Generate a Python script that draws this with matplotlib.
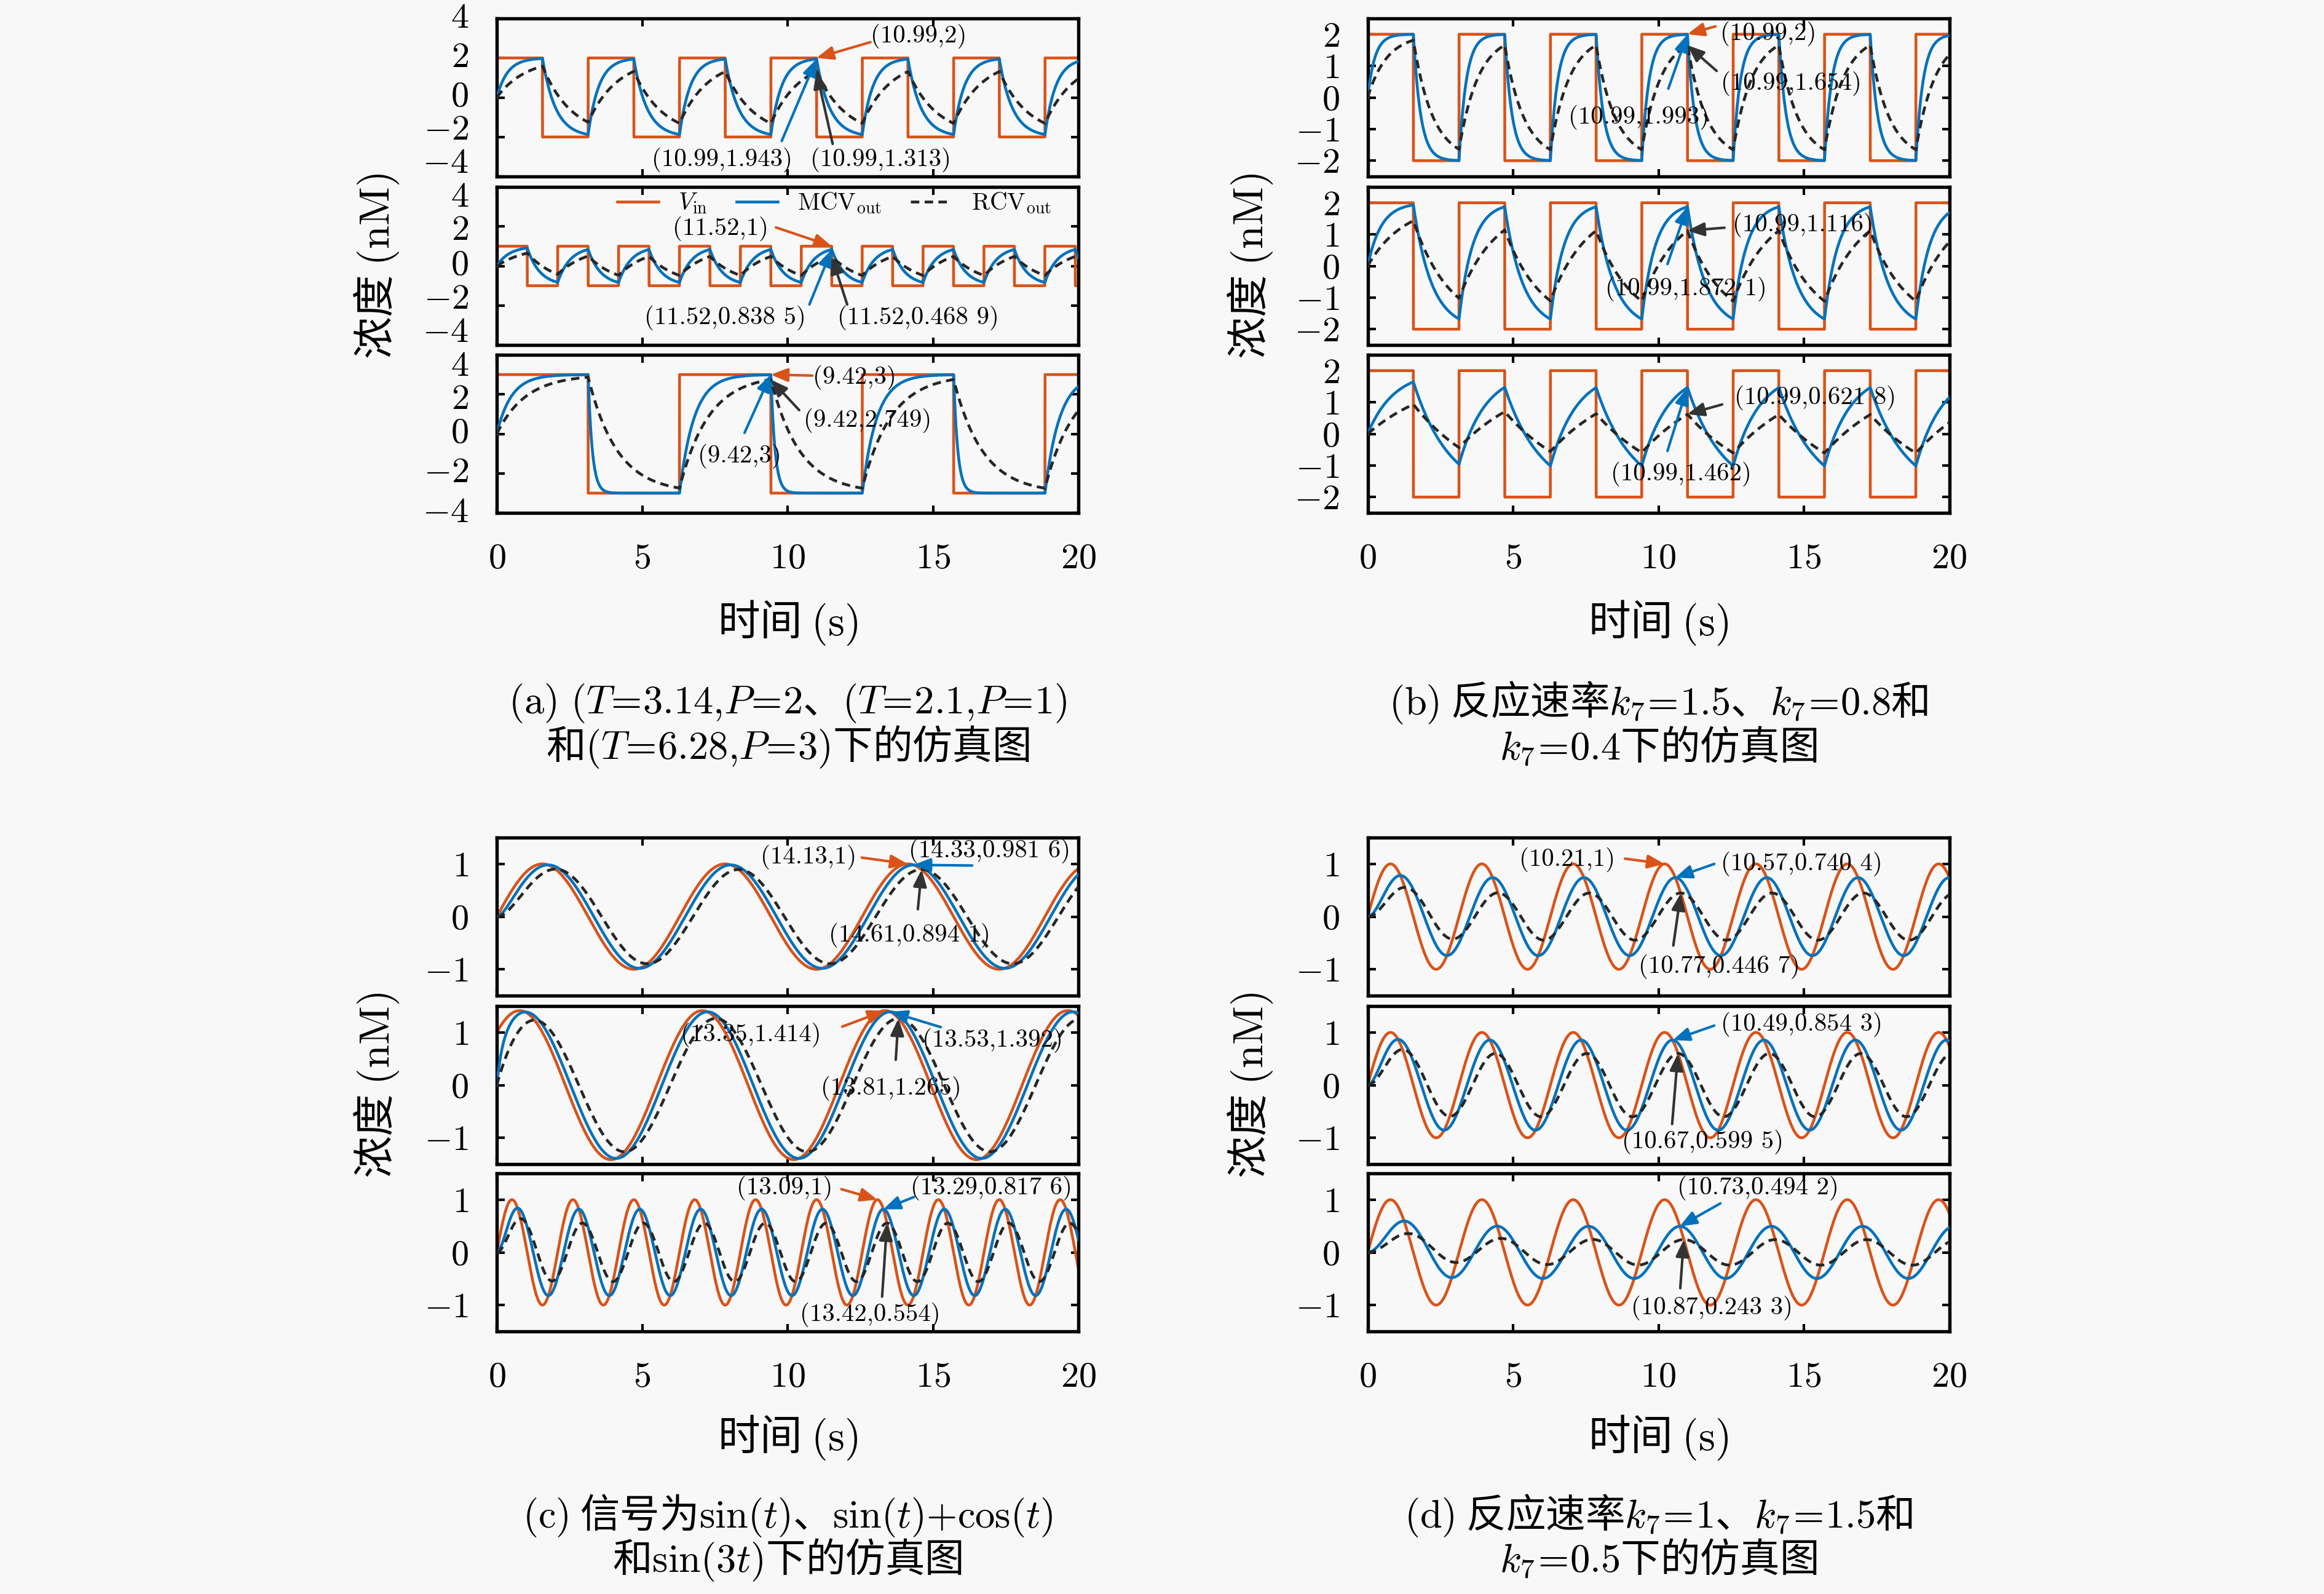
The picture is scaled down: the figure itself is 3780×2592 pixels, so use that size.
import numpy as np
import matplotlib
matplotlib.use("Agg")
import matplotlib.pyplot as plt
from matplotlib.transforms import ScaledTranslation, blended_transform_factory

plt.rcParams['mathtext.fontset'] = 'cm'
plt.rcParams['font.family'] = ['cmr10', 'Noto Sans CJK SC', 'DejaVu Sans']
plt.rcParams['axes.unicode_minus'] = False

# ------------------------------------------------------------------ data
t_end = 20.0
x_ticks = [0, 5, 10, 15, 20]

# (a) square-wave inputs: switching interval (half period), amplitude P
a_half_period = [1.571, 1.047, 3.142]
a_amplitude = [2, 1, 3]
a_rcv_rate = [1.0, 1.0, 1.0]
a_mcv_rate_up = [2.7, 2.3, 2.0]
a_mcv_rate_down = [2.2, 2.3, 7.0]
a_yticks = [-4, -2, 0, 2, 4]
a_ylim = [-4, 4]

# (b) square wave T=3.14, P=2, reaction rate k7 = 1.5, 0.8, 0.4
b_half_period = [1.571, 1.571, 1.571]
b_amplitude = [2, 2, 2]
b_rcv_rate = [1.5, 0.8, 0.4]
b_mcv_rate_up = [4.0, 2.14, 1.10]
b_mcv_rate_down = [4.0, 1.59, 0.80]
b_yticks = [-2, -1, 0, 1, 2]
b_ylim = [-2.5, 2.5]

# (c) signals sin(t), sin(t)+cos(t), sin(3t)
c_sin_amp = [1, 1, 1]
c_cos_amp = [0, 1, 0]
c_freq = [1, 1, 3]
c_rcv_rate = [2.0, 2.0, 2.0]
c_mcv_rate = [5.1, 5.5, 4.3]
cd_yticks = [-1, 0, 1]
cd_ylim = [-1.5, 1.5]

# (d) signal sin(2t), k7 = 1, 1.5, 0.5
d_sin_amp = [1, 1, 1]
d_cos_amp = [0, 0, 0]
d_freq = [2, 2, 2]
d_rcv_rate = [1.0, 1.5, 0.5]
d_mcv_rate = [2.2, 3.3, 1.14]

legend_labels = [r'$V_{\mathrm{in}}$', r'$\mathrm{MCV}_{\mathrm{out}}$', r'$\mathrm{RCV}_{\mathrm{out}}$']

# annotations: label, annotated point, series
a_notes = [
    [('(10.99,2)', 10.99, 2, 'vin'), ('(10.99,1.943)', 10.99, 1.943, 'mcv'), ('(10.99,1.313)', 10.99, 1.313, 'rcv')],
    [('(11.52,1)', 11.52, 1, 'vin'), ('(11.52,0.838 5)', 11.52, 0.8385, 'mcv'), ('(11.52,0.468 9)', 11.52, 0.4689, 'rcv')],
    [('(9.42,3)', 9.42, 3, 'vin'), ('(9.42,3)', 9.42, 3, 'mcv'), ('(9.42,2.749)', 9.42, 2.749, 'rcv')],
]
b_notes = [
    [('(10.99,2)', 10.99, 2, 'vin'), ('(10.99,1.654)', 10.99, 1.654, 'rcv'), ('(10.99,1.993)', 10.99, 1.993, 'mcv')],
    [('(10.99,1.116)', 10.99, 1.116, 'rcv'), ('(10.99,1.872 1)', 10.99, 1.8721, 'mcv')],
    [('(10.99,0.621 8)', 10.99, 0.6218, 'rcv'), ('(10.99,1.462)', 10.99, 1.462, 'mcv')],
]
c_notes = [
    [('(14.13,1)', 14.13, 1, 'vin'), ('(14.33,0.981 6)', 14.33, 0.9816, 'mcv'), ('(14.61,0.894 1)', 14.61, 0.8941, 'rcv')],
    [('(13.35,1.414)', 13.35, 1.414, 'vin'), ('(13.53,1.392)', 13.53, 1.392, 'mcv'), ('(13.81,1.265)', 13.81, 1.265, 'rcv')],
    [('(13.09,1)', 13.09, 1, 'vin'), ('(13.29,0.817 6)', 13.29, 0.8176, 'mcv'), ('(13.42,0.554)', 13.42, 0.554, 'rcv')],
]
d_notes = [
    [('(10.21,1)', 10.21, 1, 'vin'), ('(10.57,0.740 4)', 10.57, 0.7404, 'mcv'), ('(10.77,0.446 7)', 10.77, 0.4467, 'rcv')],
    [('(10.49,0.854 3)', 10.49, 0.8543, 'mcv'), ('(10.67,0.599 5)', 10.67, 0.5995, 'rcv')],
    [('(10.73,0.494 2)', 10.73, 0.4942, 'mcv'), ('(10.87,0.243 3)', 10.87, 0.2433, 'rcv')],
]

captions = {
    'a': [r'$\mathrm{(a)}\ (T\!=\!3.14{,}P\!=\!2$、$(T\!=\!2.1{,}P\!=\!1)$',
          r'和$(T\!=\!6.28{,}P\!=\!3)$下的仿真图'],
    'b': [r'$\mathrm{(b)}$ 反应速率$k_7\!=\!1.5$、$k_7\!=\!0.8$和',
          r'$k_7\!=\!0.4$下的仿真图'],
    'c': [r'$\mathrm{(c)}$ 信号为$\sin(t)$、$\sin(t){+}\cos(t)$',
          r'和$\sin(3t)$下的仿真图'],
    'd': [r'$\mathrm{(d)}$ 反应速率$k_7\!=\!1$、$k_7\!=\!1.5$和',
          r'$k_7\!=\!0.5$下的仿真图'],
}

# ------------------------------------------------------------------ styles / positions
BG = '#f8f8f8'
C_VIN = '#D95319'
C_MCV = '#0072BD'
C_RCV = '#262626'
C_ARROW = {'vin': '#D95319', 'mcv': '#0072BD', 'rcv': '#333333'}

# text centre and arrow tail for each annotation (data coords)
a_pos = [
    [((14.5, 3.1), (12.85, 2.8)), ((7.75, -3.15), (9.8, -2.2)), ((13.2, -3.15), (11.55, -2.35))],
    [((7.7, 1.9), (9.6, 1.95)), ((7.85, -2.64), (10.75, -1.95)), ((14.5, -2.64), (12.05, -1.95))],
    [((12.3, 2.86), (10.85, 2.95)), ((8.35, -1.12), (8.52, 0.05)), ((12.76, 0.67), (10.4, 1.2))],
]
b_pos = [
    [((13.77, 2.02), (11.96, 2.25)), ((14.56, 0.45), (12.0, 0.84)), ((9.33, -0.63), (10.34, 0.28))],
    [((14.96, 1.30), (12.27, 1.21)), ((10.96, -0.73), (10.31, 0.06))],
    [((15.4, 1.15), (12.19, 0.93)), ((10.78, -1.27), (10.31, -0.54))],
]
c_pos = [
    [((10.73, 1.13), (12.55, 1.12)), ((16.95, 1.24), (16.35, 0.97)), ((14.2, -0.35), (14.48, 0.14))],
    [((8.73, 0.95), (11.88, 1.11)), ((17.05, 0.85), (15.27, 1.10)), ((13.55, -0.06), (13.72, 0.48))],
    [((9.89, 1.22), (11.85, 1.2)), ((17.0, 1.22), (14.34, 1.05)), ((12.85, -1.18), (13.25, -0.84))],
]
d_pos = [
    [((6.87, 1.08), (8.85, 1.10)), ((14.93, 1.0), (11.92, 1.0)), ((12.1, -0.95), (10.51, -0.55))],
    [((14.93, 1.15), (11.92, 1.13)), ((11.52, -1.08), (10.47, -0.74))],
    [((13.43, 1.22), (12.13, 0.93)), ((11.83, -1.05), (10.75, -0.68))],
]

# vertical offsets (pt, positive = up) of the y tick labels of panel (a), per row
a_label_shift = [{-2: 2.4, -4: 4.9},
                 {4: -4.1, 2: -1.7, -2: 2.2, -4: 4.6},
                 {4: -4.6, 2: -2.2}]

W, H = 3780.0, 2592.0
col_x = {'a': 808, 'b': 2224.5, 'c': 808, 'd': 2224.5}
col_w = 946
row_tops = {'a': [30, 304, 577], 'b': [30, 304, 577],
            'c': [1362, 1636, 1908], 'd': [1362, 1636, 1908]}
row_h = 257

# ------------------------------------------------------------------ simulation helpers
dt = 0.002
t = np.arange(0, t_end + dt / 2, dt)


def square(half, amp):
    return amp * np.where(np.floor(t / half + 1e-9) % 2 == 0, 1.0, -1.0)


def sinus(sa, ca, w):
    return sa * np.sin(w * t) + ca * np.cos(w * t)


def respond(u, k_up, k_dn):
    y = np.zeros_like(u)
    e_up = np.exp(-k_up * dt)
    e_dn = np.exp(-k_dn * dt)
    yy = 0.0
    for i in range(1, len(u)):
        ui = u[i - 1]
        f = e_up if ui > yy else e_dn
        yy = ui + (yy - ui) * f
        y[i] = yy
    return y


panels = {}
panels['a'] = [(square(a_half_period[i], a_amplitude[i]), a_rcv_rate[i], a_mcv_rate_up[i], a_mcv_rate_down[i]) for i in range(3)]
panels['b'] = [(square(b_half_period[i], b_amplitude[i]), b_rcv_rate[i], b_mcv_rate_up[i], b_mcv_rate_down[i]) for i in range(3)]
panels['c'] = [(sinus(c_sin_amp[i], c_cos_amp[i], c_freq[i]), c_rcv_rate[i], c_mcv_rate[i], c_mcv_rate[i]) for i in range(3)]
panels['d'] = [(sinus(d_sin_amp[i], d_cos_amp[i], d_freq[i]), d_rcv_rate[i], d_mcv_rate[i], d_mcv_rate[i]) for i in range(3)]

yt = {'a': a_yticks, 'b': b_yticks, 'c': cd_yticks, 'd': cd_yticks}
yl = {'a': a_ylim, 'b': b_ylim, 'c': cd_ylim, 'd': cd_ylim}
notes = {'a': a_notes, 'b': b_notes, 'c': c_notes, 'd': d_notes}
npos = {'a': a_pos, 'b': b_pos, 'c': c_pos, 'd': d_pos}

fig = plt.figure(figsize=(W / 300, H / 300), dpi=300, facecolor=BG)

TICK_FS = 14.0
ANN_FS = 9.8
LW = 1.1
YPAD = 11

for key in ['a', 'b', 'c', 'd']:
    for r in range(3):
        top = row_tops[key][r]
        ax = fig.add_axes([col_x[key] / W, 1 - (top + row_h) / H, col_w / W, row_h / H])
        ax.set_facecolor(BG)
        u, k_rcv, k_up, k_dn = panels[key][r]
        mcv = respond(u, k_up, k_dn)
        rcv = respond(u, k_rcv, k_rcv)
        l1, = ax.plot(t, u, color=C_VIN, lw=LW, zorder=2)
        l2, = ax.plot(t, mcv, color=C_MCV, lw=LW, zorder=3)
        l3, = ax.plot(t, rcv, color=C_RCV, lw=LW, dashes=(3.0, 1.9), zorder=4)
        ax.set_xlim(0, t_end)
        ax.set_ylim(*yl[key])
        ax.set_xticks(x_ticks)
        ax.set_yticks(yt[key])
        if key == 'a':
            # labels drawn individually so that the stacked panels keep them apart
            ax.set_yticklabels(['' for v in yt[key]])
            tr = blended_transform_factory(ax.transAxes, ax.transData)
            for v in yt[key]:
                sh = a_label_shift[r].get(v, 0.0)
                ax.text(0, v, f'${v}$', fontsize=TICK_FS, ha='right', va='center',
                        transform=tr + ScaledTranslation(-YPAD / 72, sh / 72, fig.dpi_scale_trans),
                        clip_on=False)
        else:
            ax.set_yticklabels([f'${v}$' for v in yt[key]], fontsize=TICK_FS)
        if r == 2:
            ax.set_xticklabels([f'${v}$' for v in x_ticks], fontsize=TICK_FS)
        else:
            ax.set_xticklabels([])
        ax.tick_params(direction='in', top=True, right=True, length=3, width=1.0,
                       pad=YPAD, colors='black')
        ax.tick_params(axis='x', pad=12)
        for s in ax.spines.values():
            s.set_linewidth(1.3)
        for (lab, px, py, ser), ((tx, ty), (sx, sy)) in zip(notes[key][r], npos[key][r]):
            ax.annotate('', xy=(px, py), xytext=(sx, sy),
                        arrowprops=dict(arrowstyle='-|>,head_length=0.5,head_width=0.2',
                                        color=C_ARROW[ser], lw=1.0, mutation_scale=11,
                                        shrinkA=0, shrinkB=0),
                        annotation_clip=False, zorder=6)
            ax.text(tx, ty, lab, fontsize=ANN_FS, family='cmr10', ha='center', va='center',
                    zorder=7, clip_on=False)
        if key == 'a' and r == 1:
            ax.legend([l1, l2, l3], legend_labels, loc='center', bbox_to_anchor=(0.58, 0.8975),
                      ncol=3, frameon=False, fontsize=9.5, handlelength=1.7,
                      handletextpad=0.8, columnspacing=1.2, borderaxespad=0, borderpad=0)

    # labels and captions
    cx = (col_x[key] + col_w / 2) / W
    if key in ('a', 'b'):
        xl_y, c1_y, c2_y = 1013, 1143, 1215
        yl_ymid = (304 + 561) / 2
    else:
        xl_y, c1_y, c2_y = 2338, 2464, 2536
        yl_ymid = (1636 + 1893) / 2
    ylab_x = 612 if key in ('a', 'c') else 2033
    fig.text(cx, 1 - xl_y / H, r'时间 $\mathrm{(s)}$', ha='center', va='center',
             fontsize=16.5, family='Noto Sans CJK SC')
    fig.text(ylab_x / W, 1 - yl_ymid / H, r'浓度 $\mathrm{(nM)}$', ha='center', va='center',
             rotation=90, fontsize=16.5, family='Noto Sans CJK SC')
    fig.text(cx, 1 - c1_y / H, captions[key][0], ha='center', va='center',
             fontsize=15.5, family='Noto Sans CJK SC')
    fig.text(cx, 1 - c2_y / H, captions[key][1], ha='center', va='center',
             fontsize=15.5, family='Noto Sans CJK SC')

fig.savefig('out.png', dpi=300, facecolor=BG)
